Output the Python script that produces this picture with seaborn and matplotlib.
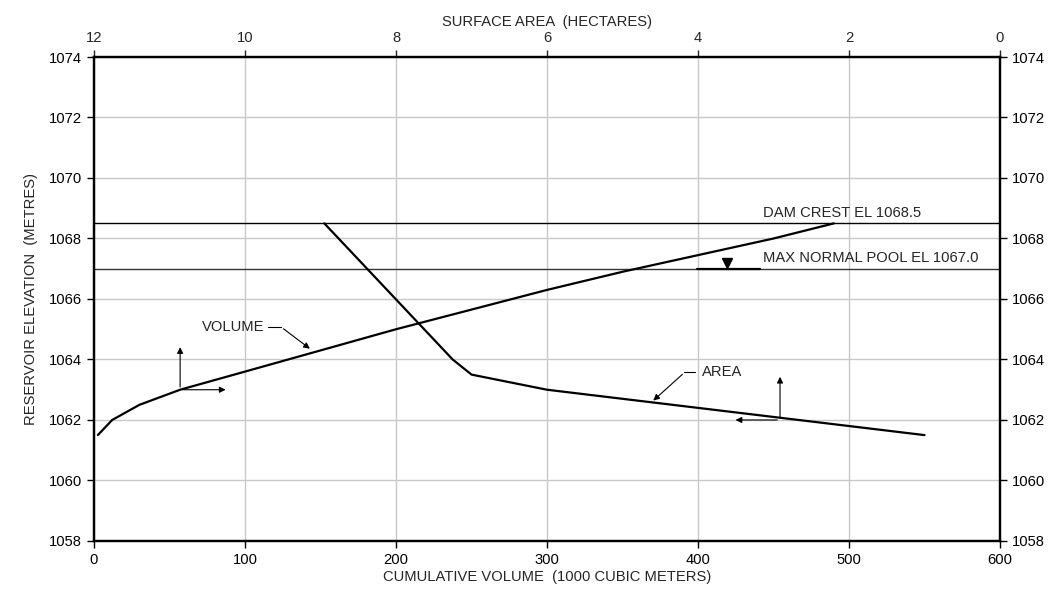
import matplotlib
matplotlib.use("Agg")
import matplotlib.pyplot as plt
import seaborn as sns
import pandas as pd

# Volume curve (bottom axis, 1000 m3) vs elevation
vol_x = [2.5, 12, 30, 57, 100, 150, 200, 250, 300, 350, 400, 450, 490]
vol_y = [1061.5, 1062.0, 1062.5, 1063.0, 1063.6, 1064.3, 1065.0, 1065.65, 1066.3, 1066.9, 1067.45, 1068.0, 1068.5]

# Area curve (top axis, hectares) vs elevation
area_x = [8.95, 7.25, 7.0, 6.0, 1.0]
area_y = [1068.5, 1064.0, 1063.5, 1063.0, 1061.5]

dam_crest = 1068.5
max_pool = 1067.0

x_ticks = [0, 100, 200, 300, 400, 500, 600]
top_ticks = [12, 10, 8, 6, 4, 2, 0]
y_ticks = [1058, 1060, 1062, 1064, 1066, 1068, 1070, 1072, 1074]

sns.set_style("white")
plt.rcParams['font.family'] = ['Liberation Sans', 'DejaVu Sans']
fs = 10.6

fig = plt.figure(figsize=(10.52, 5.95), dpi=100)
ax = fig.add_axes([0.0894, 0.0908, 0.8612, 0.8134])

ax.set_xlim(0, 600)
ax.set_ylim(1058, 1074)
ax.set_xticks(x_ticks)
ax.set_yticks(y_ticks)
ax.grid(True, color='#c8c8c8', linewidth=1)
ax.set_axisbelow(True)

# reference lines
ax.axhline(dam_crest, color='black', linewidth=1.0)
ax.axhline(max_pool, color='#333333', linewidth=1.0)
ax.plot([399, 441], [max_pool, max_pool], color='black', linewidth=1.6)
ax.plot([419], [max_pool + 0.2], marker='v', color='black', markersize=7)

vol_df = pd.DataFrame({"Volume": vol_x, "Elevation": vol_y})
sns.lineplot(data=vol_df, x="Volume", y="Elevation", sort=False, color='black', linewidth=1.6, ax=ax)
ax.set_xlabel("CUMULATIVE VOLUME  (1000 CUBIC METERS)", fontsize=fs)
ax.set_ylabel("RESERVOIR ELEVATION  (METRES)", fontsize=fs, labelpad=8)

ax.text(443, dam_crest + 0.12, "DAM CREST EL 1068.5", fontsize=fs, va='bottom')
ax.text(443, max_pool + 0.12, "MAX NORMAL POOL EL 1067.0", fontsize=fs, va='bottom')

# volume leader
ax.text(71.5, 1065.07, "VOLUME", fontsize=fs, va='center')
ax.plot([115, 124], [1065.07, 1065.07], color='black', linewidth=0.8)
ax.annotate("", xy=(144.4, 1064.3), xytext=(124, 1065.07),
            arrowprops=dict(arrowstyle='-|>', color='black', lw=0.8, mutation_scale=9))
# volume direction arrows
ax.annotate("", xy=(57, 1064.5), xytext=(57, 1063.0),
            arrowprops=dict(arrowstyle='-|>', color='black', lw=0.8, mutation_scale=9))
ax.annotate("", xy=(89, 1063.0), xytext=(57, 1063.0),
            arrowprops=dict(arrowstyle='-|>', color='black', lw=0.8, mutation_scale=9))

# area leader
ax.text(402.6, 1063.57, "AREA", fontsize=fs, va='center')
ax.plot([391, 398], [1063.57, 1063.57], color='black', linewidth=0.8)
ax.annotate("", xy=(369, 1062.58), xytext=(391, 1063.57),
            arrowprops=dict(arrowstyle='-|>', color='black', lw=0.8, mutation_scale=9))
# area direction arrows
ax.annotate("", xy=(454.3, 1063.52), xytext=(454.3, 1062.0),
            arrowprops=dict(arrowstyle='-|>', color='black', lw=0.8, mutation_scale=9))
ax.annotate("", xy=(423, 1062.0), xytext=(454.3, 1062.0),
            arrowprops=dict(arrowstyle='-|>', color='black', lw=0.8, mutation_scale=9))

# top axis for area
ax2 = ax.twiny()
ax2.set_xlim(12, 0)
ax2.set_xticks(top_ticks)
area_df = pd.DataFrame({"Area": area_x, "Elevation": area_y})
sns.lineplot(data=area_df, x="Area", y="Elevation", sort=False, color='black', linewidth=1.6, ax=ax2)
ax2.set_xlabel("SURFACE AREA  (HECTARES)", fontsize=fs)
ax2.set_ylabel("")
ax2.set_ylim(1058, 1074)

for a in (ax, ax2):
    for s in a.spines.values():
        s.set_color('black')
        s.set_linewidth(1.6)

ax.tick_params(axis='both', which='both', direction='out', length=5, width=1,
               labelsize=fs, colors='black', left=True, bottom=True, right=True,
               labelright=True)
ax2.tick_params(axis='x', direction='out', length=5, width=1, labelsize=fs, top=True)
ax.xaxis.labelpad = 2
ax2.xaxis.labelpad = 4

fig.savefig("out.png", dpi=100)
